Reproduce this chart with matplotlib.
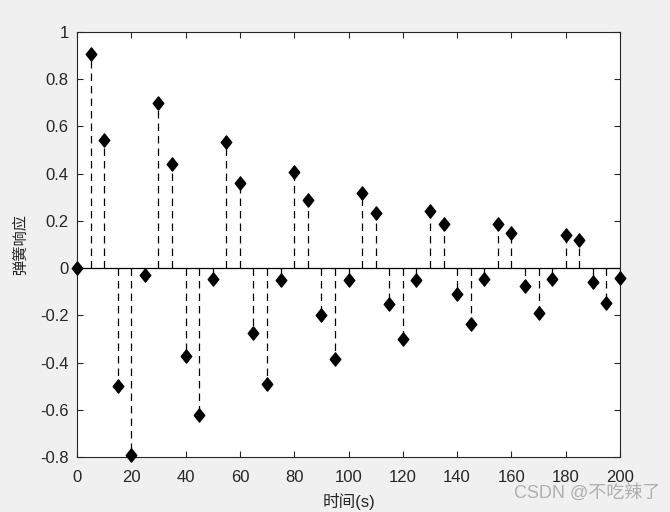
import numpy as np
import matplotlib.pyplot as plt
from matplotlib.path import Path

plt.rcParams['font.family'] = ['Liberation Sans', 'Noto Sans CJK SC', 'DejaVu Sans']

# Data
t = np.arange(0, 201, 5)
resp = [0.0, 0.905, 0.541, -0.499, -0.790, -0.028, 0.698, 0.439, -0.371, -0.624,
        -0.045, 0.535, 0.359, -0.273, -0.489, -0.049, 0.408, 0.287, -0.199, -0.387,
        -0.052, 0.316, 0.232, -0.150, -0.302, -0.051, 0.242, 0.186, -0.110, -0.237,
        -0.048, 0.186, 0.147, -0.076, -0.189, -0.044, 0.140, 0.119, -0.058, -0.147,
        -0.040]

# MATLAB-like diamond (a bit narrower than tall)
diamond = Path([(0, 1), (0.8, 0), (0, -1), (-0.8, 0), (0, 1)],
               [Path.MOVETO, Path.LINETO, Path.LINETO, Path.LINETO, Path.CLOSEPOLY])

fig = plt.figure(figsize=(6.7, 5.12), dpi=100, facecolor='#f0f0f0')
ax = fig.add_axes([77 / 670, 55 / 512, 543 / 670, 425 / 512])

markers, stems, base = ax.stem(t, resp, linefmt='k--', markerfmt='k', basefmt='k-')
markers.set_marker(diamond)
markers.set_markersize(9.5)
markers.set_clip_on(False)
markers.set_zorder(5)
stems.set_linewidth(0.9)
stems.set_linestyle((0, (6, 4)))
base.set_linewidth(0.9)
base.set_xdata([0, 200])

ax.set_xlim(0, 200)
ax.set_ylim(-0.8, 1)
ax.set_xticks(np.arange(0, 201, 20))
ax.set_yticks(np.arange(-0.8, 1.01, 0.2))
ax.set_yticklabels(['-0.8', '-0.6', '-0.4', '-0.2', '0', '0.2', '0.4', '0.6', '0.8', '1'])
ax.tick_params(direction='in', top=True, right=True, labelsize=12, length=4,
               colors='#262626', labelcolor='#262626')
ax.tick_params(axis='x', pad=9)
ax.tick_params(axis='y', pad=6)
for s in ax.spines.values():
    s.set_color('#262626')
    s.set_linewidth(0.8)

ax.set_xlabel('时间(s)', fontsize=12, color='#262626', labelpad=6)
ax.set_ylabel('弹簧响应', fontsize=11, color='#262626', labelpad=9)

fig.text(0.985, 0.02, 'CSDN @不吃辣了', ha='right', va='bottom', fontsize=13,
         color='#b0b0b0')

fig.savefig('out.png', dpi=100, facecolor=fig.get_facecolor())
